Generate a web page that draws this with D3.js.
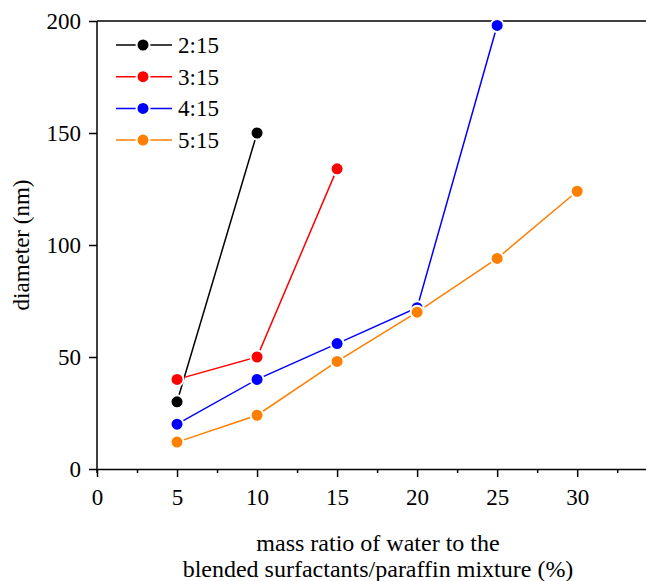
<!DOCTYPE html>
<html><head><meta charset="utf-8">
<script src="https://cdn.jsdelivr.net/npm/d3@7"></script>
<style>body{margin:0;background:#fff}svg{display:block}svg text{font-family:"Times New Roman","Liberation Serif",Tinos,"DejaVu Serif",serif !important}</style>
</head><body><svg id="c" width="646" height="581"></svg>
<script>
const seriesNames = ["2:15","3:15","4:15","5:15"];
const seriesColors = ["#000000","#ff0000","#0000ff","#ff7f00"];
const xs_2_15 = [5,10];            const ys_2_15 = [30,150];
const xs_3_15 = [5,10,15];         const ys_3_15 = [40,50,134];
const xs_4_15 = [5,10,15,20,25];   const ys_4_15 = [20,40,56,72,198];
const xs_5_15 = [5,10,15,20,25,30];const ys_5_15 = [12,24,48,70,94,124];
const xTicks = [0,5,10,15,20,25,30];
const xMinor = [2.5,7.5,12.5,17.5,22.5,27.5,32.5];
const yTicks = [0,50,100,150,200];

const series = [[xs_2_15,ys_2_15],[xs_3_15,ys_3_15],[xs_4_15,ys_4_15],[xs_5_15,ys_5_15]]
  .map((s,i)=>({name:seriesNames[i],color:seriesColors[i],pts:s[0].map((x,j)=>({x,y:s[1][j]}))}));

const svg = d3.select("#c");
const L=97, R=646, T=21, B=469;
const x = d3.scaleLinear().domain([0,34.3]).range([L,R]);
const y = d3.scaleLinear().domain([0,200]).range([B,T]);

svg.append("line").attr("x1",L).attr("x2",R).attr("y1",T).attr("y2",T).attr("stroke","#000").attr("stroke-width",1.5);

svg.append("g").attr("transform",`translate(0,${B})`)
  .call(d3.axisBottom(x).tickValues(xTicks).tickSize(8).tickSizeOuter(0).tickPadding(12));
svg.append("g").attr("transform",`translate(0,${B})`)
  .call(d3.axisBottom(x).tickValues(xMinor).tickSize(4).tickSizeOuter(0).tickFormat(""))
  .select(".domain").remove();
const ya = svg.append("g").attr("transform",`translate(${L},0)`)
  .call(d3.axisLeft(y).tickValues(yTicks).tickSize(8).tickSizeOuter(0).tickPadding(8));
svg.selectAll(".domain").attr("stroke-width",1.5);
svg.selectAll(".tick line").attr("stroke-width",1.5);
svg.selectAll(".tick text").attr("font-size",23).attr("fill","#000");
ya.select(".domain").attr("d",`M0,${T}V${B+4}`);

const line = d3.line().x(d=>x(d.x)).y(d=>y(d.y));
series.forEach(s=>{
  svg.append("path").datum(s.pts).attr("d",line).attr("fill","none").attr("stroke",s.color).attr("stroke-width",1.5);
});
series.forEach(s=>{
  svg.selectAll(null).data(s.pts).enter().append("circle")
    .attr("cx",d=>x(d.x)).attr("cy",d=>y(d.y)).attr("r",6.5)
    .attr("fill",s.color).attr("stroke","#fff").attr("stroke-width",2);
});

const lg = svg.append("g");
series.forEach((s,i)=>{
  const yy = 45 + i*31.7;
  lg.append("line").attr("x1",116).attr("x2",172).attr("y1",yy).attr("y2",yy).attr("stroke",s.color).attr("stroke-width",1.5);
  lg.append("circle").attr("cx",143).attr("cy",yy).attr("r",6.5).attr("fill",s.color).attr("stroke","#fff").attr("stroke-width",2);
  lg.append("text").attr("x",178).attr("y",yy+8).attr("font-size",23).text(s.name);
});

svg.append("text").attr("transform","translate(29,245) rotate(-90)").attr("text-anchor","middle").attr("font-size",23).text("diameter (nm)");
svg.append("text").attr("x",378).attr("y",551).attr("text-anchor","middle").attr("font-size",24).text("mass ratio of water to the");
svg.append("text").attr("x",378).attr("y",577).attr("text-anchor","middle").attr("font-size",24).text("blended surfactants/paraffin mixture (%)");
</script></body></html>
